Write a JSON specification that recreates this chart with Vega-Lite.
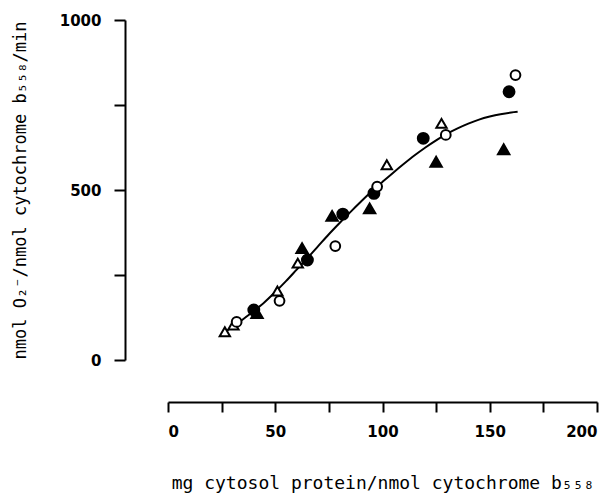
{
  "$schema": "https://vega.github.io/schema/vega-lite/v6.json",
  "width": 429,
  "height": 340,
  "autosize": {"type": "none"},
  "padding": {"left": 168, "top": 20, "right": 16, "bottom": 135},
  "background": "white",
  "config": {
    "view": {"stroke": null},
    "axis": {
      "grid": false,
      "domainColor": "black",
      "domainWidth": 2,
      "tickColor": "black",
      "tickWidth": 2,
      "labelColor": "black",
      "labelFont": "DejaVu Sans",
      "labelFontWeight": "bold",
      "labelFontSize": 15,
      "titleColor": "black",
      "titleFont": "DejaVu Sans Mono",
      "titleFontWeight": "normal"
    }
  },
  "datasets": {
    "curve": [
      {"x": 26, "y": 80}, {"x": 30, "y": 97}, {"x": 35, "y": 120}, {"x": 40, "y": 144},
      {"x": 45, "y": 170}, {"x": 50, "y": 200}, {"x": 55, "y": 232}, {"x": 60, "y": 266},
      {"x": 65, "y": 300}, {"x": 70, "y": 335}, {"x": 75, "y": 370}, {"x": 80, "y": 403},
      {"x": 85, "y": 435}, {"x": 90, "y": 466}, {"x": 95, "y": 496}, {"x": 100, "y": 524},
      {"x": 105, "y": 551}, {"x": 110, "y": 577}, {"x": 115, "y": 602}, {"x": 120, "y": 625},
      {"x": 125, "y": 646}, {"x": 130, "y": 665}, {"x": 135, "y": 681}, {"x": 140, "y": 695},
      {"x": 145, "y": 707}, {"x": 150, "y": 716}, {"x": 155, "y": 723}, {"x": 160, "y": 728},
      {"x": 163, "y": 730}
    ],
    "points": [
      {"x": 76.5, "y": 424, "series": "filled triangle"},
      {"x": 41.5, "y": 138, "series": "filled triangle"},
      {"x": 62.5, "y": 329, "series": "filled triangle"},
      {"x": 94, "y": 446, "series": "filled triangle"},
      {"x": 125, "y": 583, "series": "filled triangle"},
      {"x": 156.5, "y": 620, "series": "filled triangle"},
      {"x": 40, "y": 147, "series": "filled circle"},
      {"x": 65, "y": 294, "series": "filled circle"},
      {"x": 81.5, "y": 429, "series": "filled circle"},
      {"x": 96, "y": 490, "series": "filled circle"},
      {"x": 119, "y": 652, "series": "filled circle"},
      {"x": 159, "y": 789, "series": "filled circle"},
      {"x": 26.5, "y": 83, "series": "open triangle"},
      {"x": 30.5, "y": 103, "series": "open triangle"},
      {"x": 51, "y": 203, "series": "open triangle"},
      {"x": 60.5, "y": 285, "series": "open triangle"},
      {"x": 102, "y": 574, "series": "open triangle"},
      {"x": 127.5, "y": 696, "series": "open triangle"},
      {"x": 32, "y": 112, "series": "open circle"},
      {"x": 52, "y": 174, "series": "open circle"},
      {"x": 78, "y": 335, "series": "open circle"},
      {"x": 97.5, "y": 510, "series": "open circle"},
      {"x": 129.5, "y": 662, "series": "open circle"},
      {"x": 162, "y": 838, "series": "open circle"}
    ]
  },
  "encoding": {
    "x": {
      "field": "x", "type": "quantitative",
      "scale": {"domain": [0, 200], "nice": false, "zero": false},
      "axis": {
        "title": "mg cytosol protein/nmol cytochrome b₅₅₈",
        "titleFontSize": 18,
        "titlePadding": 35,
        "offset": 42,
        "values": [0, 25, 50, 75, 100, 125, 150, 175, 200],
        "format": "d",
        "labelExpr": "datum.value % 50 === 0 ? datum.label : ''",
        "tickSize": 10,
        "labelPadding": 12
      }
    },
    "y": {
      "field": "y", "type": "quantitative",
      "scale": {"domain": [0, 1000], "nice": false},
      "axis": {
        "title": "nmol O₂⁻/nmol cytochrome b₅₅₈/min",
        "titleFontSize": 17,
        "titlePadding": 30,
        "offset": 43,
        "values": [0, 250, 500, 750, 1000],
        "format": "d",
        "labelExpr": "datum.value % 500 === 0 ? datum.label : ''",
        "labelFlush": false,
        "tickSize": 11,
        "labelPadding": 13
      }
    }
  },
  "layer": [
    {
      "data": {"name": "curve"},
      "mark": {"type": "line", "color": "black", "strokeWidth": 2, "interpolate": "monotone"}
    },
    {
      "data": {"name": "points"},
      "mark": {"type": "point", "filled": false, "stroke": "black", "strokeWidth": 2, "opacity": 1},
      "encoding": {
        "shape": {
          "field": "series", "type": "nominal",
          "scale": {"domain": ["filled triangle", "filled circle", "open triangle", "open circle"], "range": ["triangle-up", "circle", "triangle-up", "circle"]},
          "legend": null
        },
        "fill": {
          "field": "series", "type": "nominal",
          "scale": {"domain": ["filled triangle", "filled circle", "open triangle", "open circle"], "range": ["black", "black", "white", "white"]},
          "legend": null
        },
        "size": {
          "field": "series", "type": "nominal",
          "scale": {"domain": ["filled triangle", "filled circle", "open triangle", "open circle"], "range": [130, 95, 130, 85]},
          "legend": null
        }
      }
    }
  ]
}
